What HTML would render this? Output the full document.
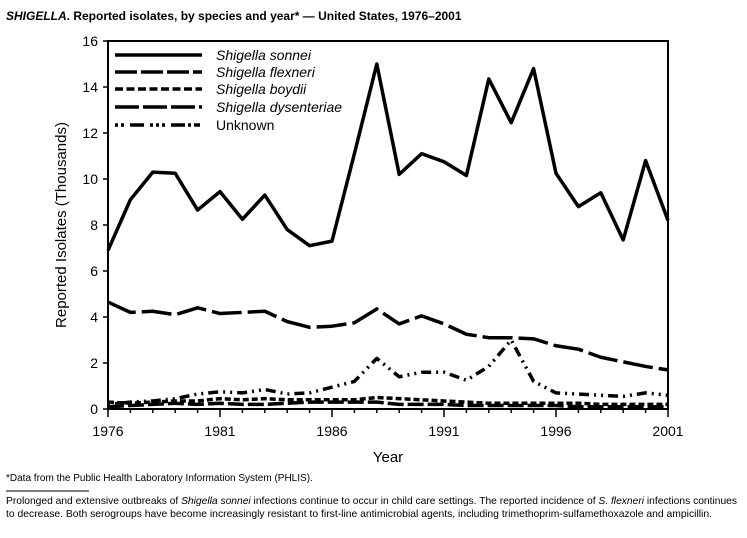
<!DOCTYPE html>
<html><head><meta charset="utf-8"><style>
body{margin:0;background:#fff;width:747px;height:533px;overflow:hidden;font-family:"Liberation Sans",sans-serif;}
</style></head><body>
<svg width="747" height="533" viewBox="0 0 747 533" xmlns="http://www.w3.org/2000/svg" font-family="Liberation Sans, sans-serif">
<text x="6" y="20" font-size="12" font-weight="bold"><tspan font-style="italic">SHIGELLA</tspan>. Reported isolates, by species and year* — United States, 1976–2001</text>
<g stroke="#000" stroke-width="2" fill="none">
<rect x="108" y="41" width="560" height="368"/>
</g>
<g stroke="#000" stroke-width="1.5">
<line x1="103" y1="41" x2="108" y2="41"/><line x1="103" y1="87" x2="108" y2="87"/><line x1="103" y1="133" x2="108" y2="133"/><line x1="103" y1="179" x2="108" y2="179"/><line x1="103" y1="225" x2="108" y2="225"/><line x1="103" y1="271" x2="108" y2="271"/><line x1="103" y1="317" x2="108" y2="317"/><line x1="103" y1="363" x2="108" y2="363"/><line x1="103" y1="409" x2="108" y2="409"/>
</g>
<g font-size="14" text-anchor="end">
<text x="98" y="46">16</text><text x="98" y="92">14</text><text x="98" y="138">12</text><text x="98" y="184">10</text><text x="98" y="230">8</text><text x="98" y="276">6</text><text x="98" y="322">4</text><text x="98" y="368">2</text><text x="98" y="414">0</text>
</g>
<g font-size="14" text-anchor="middle">
<text x="108" y="436">1976</text><text x="220" y="436">1981</text><text x="332" y="436">1986</text><text x="444" y="436">1991</text><text x="556" y="436">1996</text><text x="668" y="436">2001</text>
<text x="388" y="462" font-size="15">Year</text>
</g>
<text transform="translate(66,225) rotate(-90)" font-size="15" text-anchor="middle">Reported Isolates (Thousands)</text>
<g fill="none" stroke="#000" stroke-width="3.5" stroke-linejoin="round">
<polyline points="108,250.3 130.4,199.7 152.8,172.1 175.2,173.25 197.6,210.05 220,191.65 242.4,219.25 264.8,195.1 287.2,229.6 309.6,245.7 332,241.1 354.4,153.7 376.8,64 399.2,174.4 421.6,153.7 444,161.75 466.4,175.55 488.8,78.95 511.2,122.65 533.6,68.6 556,173.25 578.4,206.6 600.8,192.8 623.2,239.95 645.6,160.6 668,220.4"/>
<polyline stroke-dasharray="30 6" points="108,302.05 130.4,312.4 152.8,311.25 175.2,314.7 197.6,307.8 220,313.55 242.4,312.4 264.8,311.25 287.2,321.6 309.6,327.35 332,326.2 354.4,322.75 376.8,308.95 399.2,323.9 421.6,315.85 444,323.9 466.4,334.25 488.8,337.7 511.2,337.7 533.6,338.85 556,345.75 578.4,349.2 600.8,357.25 623.2,361.85 645.6,366.45 668,369.9"/>
<polyline stroke-dasharray="2 5 2 5 10 5" points="108,404.4 130.4,402.1 152.8,400.95 175.2,398.65 197.6,394.05 220,391.75 242.4,392.9 264.8,389.45 287.2,394.05 309.6,392.9 332,387.15 354.4,381.4 376.8,358.4 399.2,376.8 421.6,372.2 444,372.2 466.4,380.25 488.8,366.45 511.2,340 533.6,381.4 556,392.9 578.4,394.05 600.8,395.2 623.2,396.35 645.6,392.9 668,395.2"/>
<polyline stroke-dasharray="6 3" points="108,402.1 130.4,403.25 152.8,402.1 175.2,400.95 197.6,400.95 220,398.65 242.4,399.8 264.8,398.65 287.2,399.8 309.6,399.8 332,399.8 354.4,399.8 376.8,397.5 399.2,398.65 421.6,399.8 444,400.95 466.4,402.1 488.8,403.25 511.2,403.25 533.6,403.25 556,403.25 578.4,403.25 600.8,404.4 623.2,404.4 645.6,404.4 668,404.4"/>
<polyline stroke-dasharray="16 4" points="108,406.7 130.4,405.55 152.8,404.4 175.2,403.25 197.6,404.4 220,403.25 242.4,404.4 264.8,404.4 287.2,403.25 309.6,402.1 332,402.1 354.4,402.1 376.8,402.1 399.2,404.4 421.6,404.4 444,404.4 466.4,405.55 488.8,405.55 511.2,405.55 533.6,405.55 556,405.55 578.4,406.7 600.8,406.7 623.2,406.7 645.6,406.7 668,406.7"/>
<line x1="115" y1="55" x2="202" y2="55"/>
<line x1="115" y1="72" x2="202" y2="72" stroke-dasharray="22 4"/>
<line x1="115" y1="89" x2="202" y2="89" stroke-dasharray="8 3.5"/>
<line x1="115" y1="107" x2="202" y2="107" stroke-dasharray="24 4"/>
<line x1="115" y1="125" x2="202" y2="125" stroke-dasharray="3 3 3 6 14 6 3 3 3 3 3 6 14"/>
</g>
<g font-size="14">
<text x="216" y="60" font-style="italic">Shigella sonnei</text>
<text x="216" y="77" font-style="italic">Shigella flexneri</text>
<text x="216" y="94" font-style="italic">Shigella boydii</text>
<text x="216" y="112" font-style="italic">Shigella dysenteriae</text>
<text x="216" y="130">Unknown</text>
</g>
<g stroke="#000" stroke-width="1.5">
<line x1="108" y1="409" x2="108" y2="417"/><line x1="130.4" y1="409" x2="130.4" y2="413"/><line x1="152.8" y1="409" x2="152.8" y2="413"/><line x1="175.2" y1="409" x2="175.2" y2="413"/><line x1="197.6" y1="409" x2="197.6" y2="413"/><line x1="220" y1="409" x2="220" y2="417"/><line x1="242.4" y1="409" x2="242.4" y2="413"/><line x1="264.8" y1="409" x2="264.8" y2="413"/><line x1="287.2" y1="409" x2="287.2" y2="413"/><line x1="309.6" y1="409" x2="309.6" y2="413"/><line x1="332" y1="409" x2="332" y2="417"/><line x1="354.4" y1="409" x2="354.4" y2="413"/><line x1="376.8" y1="409" x2="376.8" y2="413"/><line x1="399.2" y1="409" x2="399.2" y2="413"/><line x1="421.6" y1="409" x2="421.6" y2="413"/><line x1="444" y1="409" x2="444" y2="417"/><line x1="466.4" y1="409" x2="466.4" y2="413"/><line x1="488.8" y1="409" x2="488.8" y2="413"/><line x1="511.2" y1="409" x2="511.2" y2="413"/><line x1="533.6" y1="409" x2="533.6" y2="413"/><line x1="556" y1="409" x2="556" y2="417"/><line x1="578.4" y1="409" x2="578.4" y2="413"/><line x1="600.8" y1="409" x2="600.8" y2="413"/><line x1="623.2" y1="409" x2="623.2" y2="413"/><line x1="645.6" y1="409" x2="645.6" y2="413"/><line x1="668" y1="409" x2="668" y2="417"/>
</g>
<text x="6" y="481" font-size="10">*Data from the Public Health Laboratory Information System (PHLIS).</text>
<line x1="6" y1="491" x2="89" y2="491" stroke="#000" stroke-width="1"/>
<g font-size="10.2">
<text x="6" y="504" textLength="731" lengthAdjust="spacingAndGlyphs">Prolonged and extensive outbreaks of <tspan font-style="italic">Shigella sonnei</tspan> infections continue to occur in child care settings. The reported incidence of <tspan font-style="italic">S. flexneri</tspan> infections continues</text>
<text x="6" y="517" textLength="706" lengthAdjust="spacingAndGlyphs">to decrease. Both serogroups have become increasingly resistant to first-line antimicrobial agents, including trimethoprim-sulfamethoxazole and ampicillin.</text>
</g>
</svg>
</body></html>
